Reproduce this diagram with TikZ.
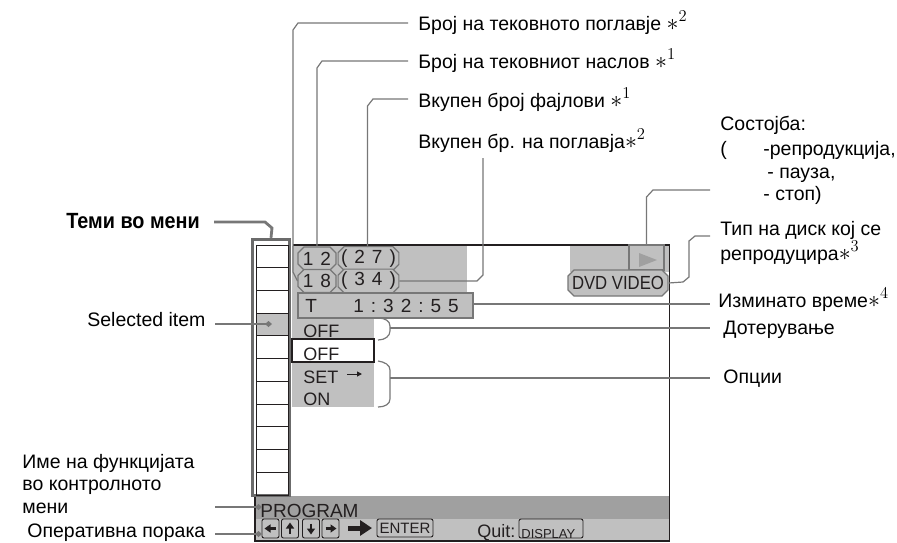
\documentclass[tikz,border=0pt]{standalone}
\usepackage{fontspec}
\setmainfont{Liberation Sans}
\usetikzlibrary{arrows.meta,shapes.misc,positioning,calc}
\definecolor{lcdgray}{HTML}{C0C0C0}
\definecolor{lcddark}{HTML}{A0A0A0}
\definecolor{leadgray}{HTML}{777777}
\definecolor{inkdark}{HTML}{231F20}
\newcommand{\lcdgap}{\hspace{7pt}}
\newcommand{\lcddrop}[1]{\raisebox{-2.5pt}{#1}}
\newcommand{\astnote}[1]{\scalebox{1.15}{$*^{#1}$}}
\tikzset{
    every picture/.style={line width=0.75pt},
    lbl/.style={anchor=base west, inner sep=0pt, font=\fontsize{19.5}{22.5}\selectfont, align=left},
    leader/.style={draw=leadgray, line width=1.2pt},
    lcdbox/.style={chamfered rectangle, chamfered rectangle xsep=3pt, chamfered rectangle ysep=3pt, draw=leadgray, line width=1.1pt, fill=lcdgray, inner sep=0pt, text=inkdark, font=\fontsize{19}{19}\selectfont},
    lcdtext/.style={anchor=base west, inner sep=0pt, text=inkdark, font=\fontsize{18}{18}\selectfont},
    keybox/.style={draw=inkdark, rounded corners=2pt, line width=0.9pt, inner sep=0pt, text=inkdark},
    keytip/.style={-{Triangle[length=6pt,width=8pt]}, draw=inkdark, line width=2.2pt},
}
\begin{document}
\begin{tikzpicture}[x=1pt,y=-1pt]
    \useasboundingbox (0,0) rectangle (897,542);
    \fill[lcdgray] (292,246) rectangle (467,293);
    \fill[lcdgray] (292,293) rectangle (374,339);
    \fill[lcdgray] (292,362) rectangle (374,407);
    \fill[lcdgray] (570,246) rectangle (669,272);
    \fill[lcdgray] (256,313) rectangle (288,336);
    \fill[lcddark] (256,496) rectangle (669,519);
    \fill[lcdgray] (256,519) rectangle (669,540);
    \draw[inkdark, line width=1.2pt] (293,245) -- (669.5,245) -- (669.5,541) -- (255,541) -- (255,496);
    \draw[inkdark, line width=1.1pt, fill=white] (292,339) rectangle (374,362);

    \node[chamfered rectangle, chamfered rectangle xsep=4pt, chamfered rectangle ysep=4pt, draw=leadgray!90!black, line width=3.4pt, minimum width=37pt, minimum height=256pt, inner sep=0pt] (menu) at (271,367.5) {};
    \draw[inkdark, line width=1pt] (256,245) rectangle (288,495);
    \foreach \i in {1,...,10} {
        \draw[inkdark, line width=0.9pt] (256,245+22.73*\i) -- (288,245+22.73*\i);
    }

    \node[lcdbox, minimum width=38pt, minimum height=23pt] (cur1) at (317,258.5) {\lcddrop{1\lcdgap 2}};
    \node[lcdbox, minimum width=59pt, minimum height=23pt] (tot1) at (368.5,258.5) {\lcddrop{(\lcdgap 2\lcdgap 7\lcdgap )}};
    \node[lcdbox, minimum width=38pt, minimum height=23pt] (cur2) at (317,281) {\lcddrop{1\lcdgap 8}};
    \node[lcdbox, minimum width=59pt, minimum height=23pt] (tot2) at (368.5,281) {\lcddrop{(\lcdgap 3\lcdgap 4\lcdgap )}};
    \node[lcdbox, minimum width=175pt, minimum height=25pt] (timebox) at (385.5,305.5) {};
    \node[lcdtext, font=\fontsize{19}{19}\selectfont] (timet) at (305,312.5) {T};
    \node[lcdtext, font=\fontsize{19}{19}\selectfont] (timeval) at (353,312.5) {1\lcdgap :\lcdgap 3\lcdgap 2\lcdgap :\lcdgap 5\lcdgap 5};
    \node[lcdbox, minimum width=35pt, minimum height=25pt] (playbox) at (646.5,257.5) {};
    \fill[lcddark] (639,253) -- (657,260) -- (639,267) -- cycle;
    \node[lcdbox, minimum width=100pt, minimum height=26pt] (discbox) at (618,283) {\lcddrop{\scalebox{.88}[1]{DVD VIDEO}}};

    \node[lcdtext] (off1) at (303,337) {OFF};
    \node[lcdtext] (off2) at (303,360) {OFF};
    \node[lcdtext] (setitem) at (303,383) {SET};
    \node[lcdtext] (onitem) at (303,405) {ON};
    \coordinate (setfrom) at (347,374);
    \coordinate (setto) at (362,374);
    \draw[inkdark, line width=1pt, -{Triangle[length=5pt,width=5pt]}] (setfrom) -- (setto);

    \node[lcdtext, font=\fontsize{19}{19}\selectfont] (prog) at (260,517) {PROGRAM};
    \foreach \nm/\x/\ang in {keyl/270.5/180,keyu/290/90,keyd/311/-90,keyr/330.5/0} {
        \node[keybox, minimum width=17pt, minimum height=19pt] (\nm) at (\x,528.5) {};
        \draw[keytip] ([shift={(\ang+180:5pt)}]\nm.center) -- ([shift={(\ang:6pt)}]\nm.center);
    }
    \coordinate (bigfrom) at (348,528);
    \coordinate (bigto) at (372,528);
    \draw[inkdark, line width=5pt, -{Triangle[length=12pt,width=15pt]}] (bigfrom) -- (bigto);
    \node[keybox, minimum width=56pt, minimum height=18pt, font=\fontsize{15}{15}\selectfont] (enter) at (405,528) {\lcddrop{ENTER}};
    \node[lcdtext] (quit) at (477,537) {Quit:};
    \node[keybox, minimum width=64pt, minimum height=19pt] (display) at (551,528.5) {};
    \node[lcdtext, font=\fontsize{13}{13}\selectfont] (displaytxt) at (521,538) {DISPLAY};

    \node[lbl] (chapno) at (418,30) {Број на тековното поглавје \astnote{2}};
    \node[lbl] (titleno) at (418,68) {Број на тековниот наслов \astnote{1}};
    \node[lbl] (fileno) at (418,107) {Вкупен број фајлови \astnote{1}};
    \node[lbl] (chaptot) at (418,148) {Вкупен бр. на поглавја\astnote{2}};
    \node[lbl] (state1) at (720,130) {Состојба:};
    \node[lbl] (state2) at (720,155) {(};
    \node[lbl] (state3) at (763,155) {-репродукција,};
    \node[lbl] (state4) at (767,178) {- пауза,};
    \node[lbl] (state5) at (763,200) {- стоп)};
    \node[lbl] (disctype) at (720,260) {Тип на диск кој се\\репродуцира\astnote{3}};
    \node[lbl] (elapsed) at (718,307) {Изминато време\astnote{4}};
    \node[lbl] (adjust) at (723,334) {Дотерување};
    \node[lbl] (options) at (723,383) {Опции};
    \node[lbl, font=\fontsize{22}{22}\selectfont\bfseries, xscale=0.9] (menuitems) at (66,228) {Теми во мени};
    \node[lbl] (selitem) at (87,326) {Selected item};
    \node[lbl] (funcname) at (22,513) {Име на функцијата\\во контролното\\мени};
    \node[lbl] (opmsg) at (27,537.5) {Оперативна порака};

    \coordinate (chapa) at (408,23);
    \coordinate (titlea) at (408,61);
    \coordinate (filea) at (408,99);
    \coordinate (tota) at (483,158);
    \coordinate (statea) at (710,190);
    \coordinate (disca) at (710,236);
    \coordinate (timea) at (710,304);
    \coordinate (adja) at (710,328);
    \coordinate (opta) at (710,378);
    \coordinate (itema) at (214,222);
    \coordinate (sela) at (215,324);
    \coordinate (funca) at (215,507);
    \coordinate (msga) at (215,534);
    \coordinate (seltip) at (272,324);
    \coordinate (functip) at (262,507);
    \coordinate (msgtip) at (262,534);
    \coordinate (adjb) at (390,328);
    \coordinate (optb) at (390,378);

    \draw[leader] (chapa) -- (298,23) -- (293,30) -- (293,272) -- (cur2.west);
    \draw[leader] (titlea) -- (322,61) -- (317,68) -- (cur1.north);
    \draw[leader] (filea) -- (373,99) -- (367.5,106) -- (367.5,247);
    \draw[leader] (tota) -- (483,275) -- (477,281) -- (tot2.east);
    \draw[leader] (statea) -- (653,190) -- (646.5,197) -- (playbox.north);
    \draw[leader] (disca) -- (695,236) -- (689,241) -- (689,277) -- (683,282) -- (discbox.east);
    \draw[leader] (timea -| timebox.east) -- (timea);
    \draw[leader] (adjb) -- (adja);
    \draw[leader] (optb) -- (opta);
    \draw[leader] (378,318) .. controls (385,318) and (390,321) .. (390,326) -- (390,331) .. controls (390,336) and (385,340) .. (378,340);
    \draw[leader] (378,361) .. controls (385,362) and (390,365) .. (390,370) -- (390,399) .. controls (390,404) and (385,407) .. (378,407);
    \draw[leader, line width=2.8pt] (itema) -- (265,222) -- (272,228) -- (menu.north);
    \draw[leader, -{Diamond[length=7pt,width=6pt]}] (sela) -- (seltip);
    \draw[leader, -{Diamond[length=7pt,width=6pt]}] (funca) -- (functip);
    \draw[leader, -{Diamond[length=7pt,width=6pt]}] (msga) -- (msgtip);
\end{tikzpicture}
\end{document}
